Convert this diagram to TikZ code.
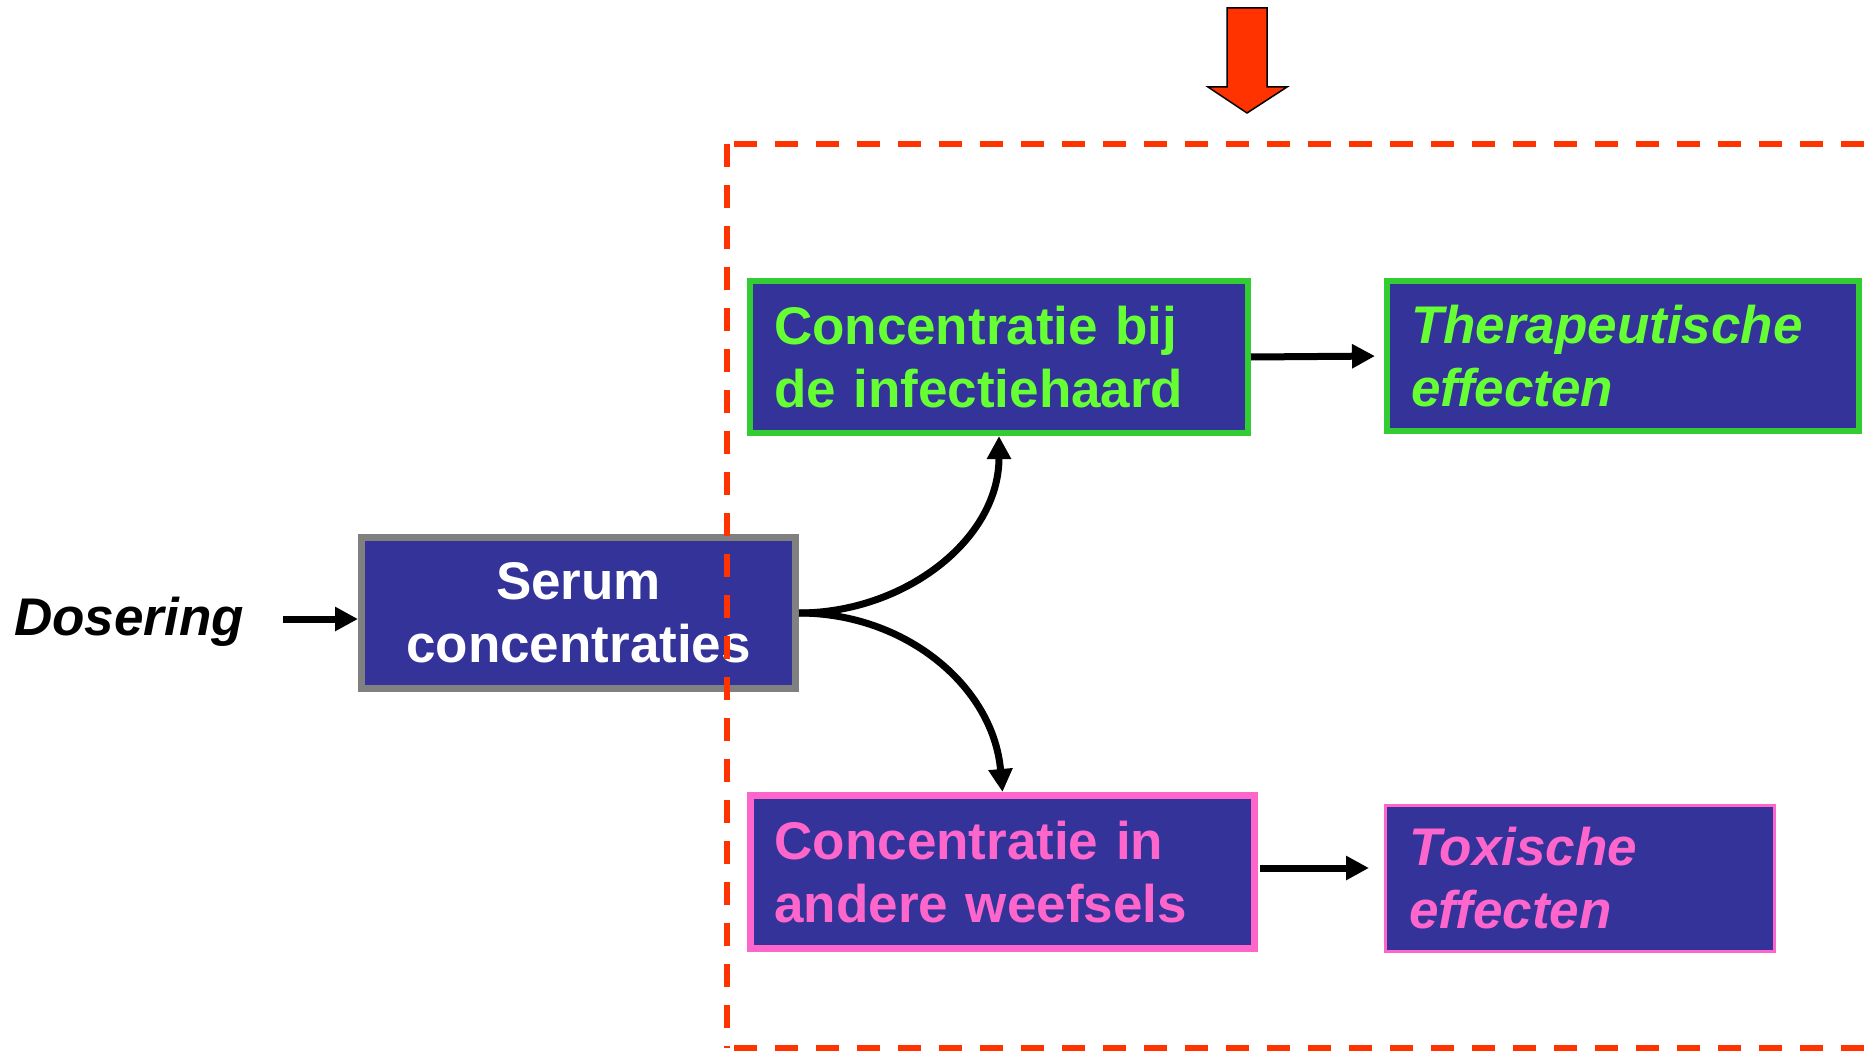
\documentclass[tikz,border=0pt]{standalone}
\usepackage{fontspec}
\setmainfont{Liberation Sans}
\usetikzlibrary{arrows.meta}
\definecolor{boxblue}{HTML}{333399}
\definecolor{grnborder}{HTML}{33CC33}
\definecolor{grntext}{HTML}{66FF33}
\definecolor{pinkc}{HTML}{FF66CC}
\definecolor{redline}{HTML}{FF3300}
\definecolor{grayb}{HTML}{808080}
\begin{document}
\begin{tikzpicture}[x=1pt,y=-1pt,
  box/.style={fill=boxblue, rectangle, inner xsep=24pt, inner ysep=0pt,
    font=\fontsize{53}{63}\selectfont\bfseries, align=left},
  ital/.style={font=\fontsize{53}{63}\selectfont\bfseries\itshape},
  arr/.style={-{Triangle[length=23pt,width=23pt]}, line width=7pt, black},
  redarrow/.style={fill=redline, draw=black, line width=1.5pt, line join=miter},
  dashbox/.style={redline, line width=6pt, dash pattern=on 23pt off 18pt},
]
\useasboundingbox (0,0) rectangle (1864,1051);
\clip (0,0) rectangle (1864,1051);

% Dosering
\node[ital, anchor=base west, inner sep=0pt] (dos) at (14,635) {Dosering};

% boxes
\node[box, draw=grayb, line width=7pt, minimum width=434pt, minimum height=151pt,
      text width=386pt, align=center, text=white] (serum) at (578.5,613) {Serum\\concentraties};
\node[box, draw=grnborder, line width=6pt, minimum width=498pt, minimum height=152pt,
      text width=450pt, text=grntext] (inf) at (999,357) {Concentratie bij\\de infectiehaard};
\node[box, ital, draw=grnborder, line width=6pt, minimum width=472pt, minimum height=150pt,
      text width=424pt, text=grntext] (ther) at (1623,356) {Therapeutische\\effecten};
\node[box, draw=pinkc, line width=7pt, minimum width=504pt, minimum height=153pt,
      text width=456pt, text=pinkc] (weef) at (1002.5,872) {Concentratie in\\andere weefsels};
\node[box, ital, draw=pinkc, line width=3pt, minimum width=389pt, minimum height=146pt,
      text width=341pt, text=pinkc] (tox) at (1580,878.5) {Toxische\\effecten};

% connectors
\coordinate (dosend) at (283,619);
\draw[arr] (dosend) -- (serum.west |- dosend);
\draw[arr] (serum.east) to[out=0,in=-90] (inf.south);
\draw[arr] (serum.east) to[out=0,in=95] (weef.north);
\draw[arr, shorten >=9pt] (inf.east) -- (ther.west);
\draw[arr, shorten <=2pt, shorten >=15pt] ([yshift=4pt]weef.east) -- ([yshift=4pt]weef.east -| tox.west);

% dashed frame
\draw[dashbox] (734,144) -- (1900,144);
\draw[dashbox] (727,144) -- (727,1048);
\draw[dashbox] (734,1048) -- (1900,1048);

% big red arrow
\draw[redarrow] (1227,8) -- (1267,8) -- (1267,87) -- (1287,87) -- (1247,113)
  -- (1208,87) -- (1227,87) -- cycle;
\end{tikzpicture}
\end{document}
